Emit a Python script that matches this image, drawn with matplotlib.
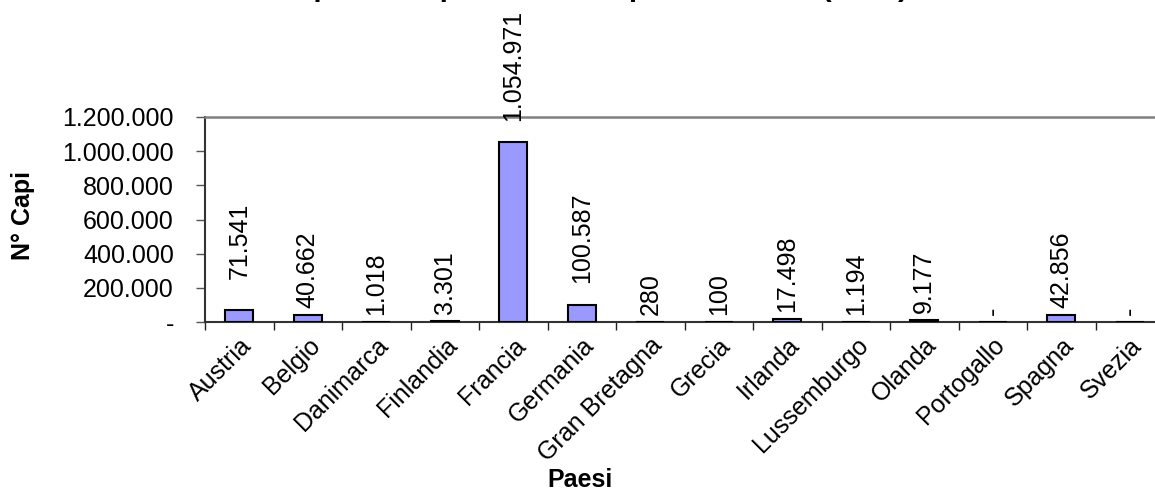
import numpy as np
import matplotlib
matplotlib.use("Agg")
import matplotlib.pyplot as plt
from matplotlib.ticker import FuncFormatter, FixedLocator
from matplotlib.transforms import ScaledTranslation

plt.rcParams["font.family"] = ["Liberation Sans", "DejaVu Sans"]

paesi = ["Austria", "Belgio", "Danimarca", "Finlandia", "Francia", "Germania",
         "Gran Bretagna", "Grecia", "Irlanda", "Lussemburgo", "Olanda",
         "Portogallo", "Spagna", "Svezia"]
capi = [71541, 40662, 1018, 3301, 1054971, 100587, 280, 100, 17498, 1194,
        9177, 0, 42856, 0]
y_ticks = [0, 200000, 400000, 600000, 800000, 1000000, 1200000]
titolo = "Numero capi vivi esportati verso paesi dell'UE (2000)"

# labels that sit higher above their bar (points)
label_lift = {"Austria": 17, "Germania": 11, "Francia": 10}


def fmt_it(v, pos=None):
    v = int(round(v))
    if v == 0:
        return "-"
    return f"{v:,}".replace(",", ".")


W, H = 1155, 493
FS = 18
fig = plt.figure(figsize=(W / 100, H / 100), dpi=100)
ax = fig.add_axes([205 / W, (H - 322) / H, 959 / W, 205 / H])

x = np.arange(len(paesi))
ax.bar(x, capi, width=0.41, color="#9999FF", edgecolor="black", linewidth=1.5, zorder=3)

for i, (p, v) in enumerate(zip(paesi, capi)):
    ax.annotate(fmt_it(v), xy=(i, v), xytext=(0, 5 + label_lift.get(p, 0)),
                textcoords="offset points", rotation=90, ha="center", va="bottom",
                fontsize=FS, annotation_clip=False)

ax.set_xlim(-0.5, len(paesi) - 0.5)
ax.set_ylim(0, 1200000)
ax.set_yticks(y_ticks)
ax.yaxis.set_major_formatter(FuncFormatter(fmt_it))
ax.tick_params(axis="y", direction="out", length=6.5, width=1, pad=16,
               labelsize=FS, color="#555555")

ax.set_xticks(x)
ax.set_xticklabels(paesi, rotation=45, ha="right", rotation_mode="anchor", fontsize=FS)
shift = ScaledTranslation(-9 / 100, 0, fig.dpi_scale_trans)
for lab in ax.get_xticklabels():
    lab.set_transform(lab.get_transform() + shift)
ax.xaxis.set_minor_locator(FixedLocator(np.arange(len(paesi) + 1) - 0.5))
ax.tick_params(axis="x", which="major", length=0, pad=8)
ax.tick_params(axis="x", which="minor", direction="out", length=6, width=1, color="#222222")

for side in ("left", "bottom"):
    ax.spines[side].set_color("#333333")
    ax.spines[side].set_linewidth(1.5)
ax.spines["top"].set_color("#808080")
ax.spines["top"].set_linewidth(1.8)
ax.spines["right"].set_visible(False)

fig.text(23 / W, 1 - 215 / H, "N° Capi", fontsize=FS, fontweight="bold",
         rotation=90, ha="center", va="center")
fig.text(580 / W, 13 / H, "Paesi", fontsize=FS, fontweight="bold",
         ha="center", va="center")

# chart title sits above the top edge of the canvas
fig.text(908 / W, 1 + 4 / H, titolo, fontsize=21.5, fontweight="bold",
         ha="right", va="baseline")

fig.savefig("out.png", dpi=100)
